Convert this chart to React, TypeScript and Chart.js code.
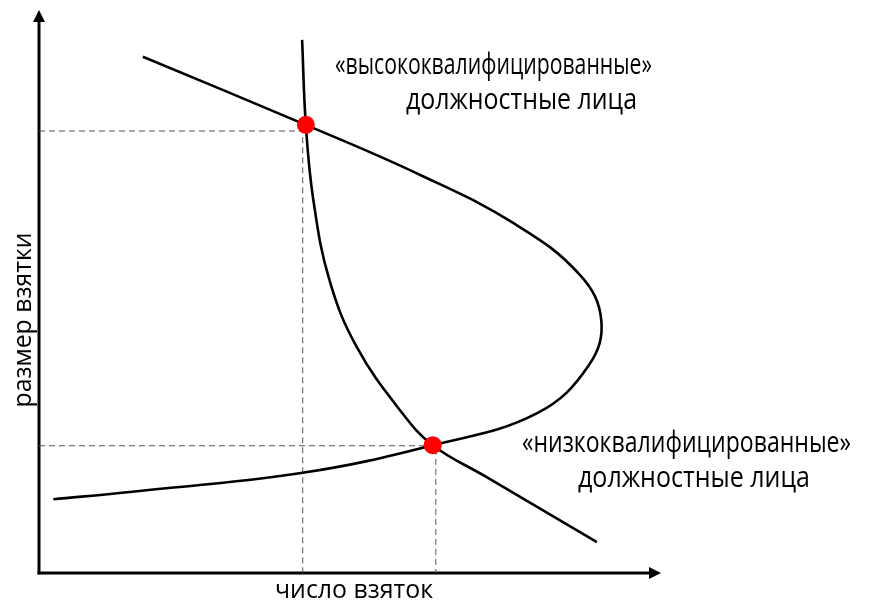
import React, { useEffect, useRef } from "react";
import { Chart, registerables } from "chart.js";

Chart.register(...registerables);

// Curve 1: steep, convex "hyperbola" (values in axis units, 0..100)
const curveSteepX = [42.3, 42.9, 44.1, 46.7, 51.1, 58.4, 63.3, 71.7, 89.7];
const curveSteepY = [94.7, 79.6, 66.3, 52.0, 40.1, 28.4, 22.7, 17.2, 5.5];

// Curve 2: C-shaped curve bulging to the right
const curveBulgeX = [16.7, 42.9, 61.3, 76.5, 87.0, 90.4, 88.4, 80.1, 63.3, 42.4, 14.6, 2.3];
const curveBulgeY = [91.7, 79.6, 70.7, 62.0, 52.9, 44.9, 36.9, 28.4, 22.7, 17.8, 14.4, 13.1];

// Equilibrium points (red)
const equilibriumX = [42.9, 63.3];
const equilibriumY = [79.6, 22.7];

// Guide (dashed) line coordinates
const guideX = [42.4, 63.8];
const guideY = [78.5, 22.6];

// Labels
const xAxisLabel = "число взяток";
const yAxisLabel = "размер взятки";
const highLabel = ["«высококвалифицированные»", "должностные лица"];
const lowLabel = ["«низкоквалифицированные»", "должностные лица"];

const zip = (xs: number[], ys: number[]) => xs.map((x, i) => ({ x, y: ys[i] }));

const FONT = '"Open Sans", "Noto Sans", sans-serif';

function drawText(
  ctx: CanvasRenderingContext2D,
  text: string,
  x: number,
  y: number,
  size: number,
  width: number,
  rotate = false
) {
  ctx.save();
  ctx.font = `${size}px ${FONT}`;
  ctx.fillStyle = "#000";
  ctx.textBaseline = "alphabetic";
  const w = ctx.measureText(text).width;
  const sx = width / w;
  ctx.translate(x, y);
  if (rotate) ctx.rotate(-Math.PI / 2);
  ctx.scale(sx, 1);
  ctx.textAlign = rotate ? "center" : "left";
  ctx.fillText(text, 0, 0);
  ctx.restore();
}

const decorPlugin = {
  id: "decor",
  beforeDatasetsDraw(chart: any) {
    const { ctx, chartArea } = chart;
    const { left, right, top, bottom } = chartArea;
    ctx.save();
    ctx.strokeStyle = "#000";
    ctx.fillStyle = "#000";
    ctx.lineWidth = 3;
    // y axis
    ctx.beginPath();
    ctx.moveTo(left, bottom + 1.5);
    ctx.lineTo(left, top + 10);
    ctx.stroke();
    ctx.beginPath();
    ctx.moveTo(left, top);
    ctx.lineTo(left - 6, top + 12);
    ctx.lineTo(left + 6, top + 12);
    ctx.closePath();
    ctx.fill();
    // x axis
    ctx.beginPath();
    ctx.moveTo(left - 1.5, bottom);
    ctx.lineTo(right - 10, bottom);
    ctx.stroke();
    ctx.beginPath();
    ctx.moveTo(right, bottom);
    ctx.lineTo(right - 12, bottom - 6);
    ctx.lineTo(right - 12, bottom + 6);
    ctx.closePath();
    ctx.fill();
    ctx.restore();
  },
  afterDraw(chart: any) {
    const { ctx } = chart;
    drawText(ctx, highLabel[0], 335, 74, 30, 317);
    drawText(ctx, highLabel[1], 406, 109, 30, 231);
    drawText(ctx, lowLabel[0], 522, 452, 30, 329);
    drawText(ctx, lowLabel[1], 578, 487, 30, 232);
    drawText(ctx, xAxisLabel, 275, 598, 26, 158);
    drawText(ctx, yAxisLabel, 31, 320, 26, 175, true);
  },
};

export default function App() {
  const ref = useRef<HTMLCanvasElement | null>(null);
  useEffect(() => {
    if (!ref.current) return;
    const guideStyle = {
      borderColor: "#555",
      borderWidth: 1,
      borderDash: [6, 4],
      pointRadius: 0,
      tension: 0,
      fill: false,
      order: 3,
    };
    const curveStyle = {
      borderColor: "#000",
      borderWidth: 2.6,
      pointRadius: 0,
      tension: 0.4,
      fill: false,
      order: 2,
    };
    const chart = new Chart(ref.current, {
      type: "line",
      data: {
        datasets: [
          {
            ...guideStyle,
            data: [
              { x: 0, y: guideY[0] },
              { x: guideX[0], y: guideY[0] },
              { x: guideX[0], y: 0 },
            ],
          },
          {
            ...guideStyle,
            data: [
              { x: 0, y: guideY[1] },
              { x: guideX[1], y: guideY[1] },
              { x: guideX[1], y: 0 },
            ],
          },
          { ...curveStyle, data: zip(curveSteepX, curveSteepY) },
          { ...curveStyle, data: zip(curveBulgeX, curveBulgeY) },
          {
            data: zip(equilibriumX, equilibriumY),
            showLine: false,
            pointRadius: 9,
            pointBackgroundColor: "#ff0000",
            pointBorderWidth: 0,
            borderColor: "#ff0000",
            order: 1,
          },
        ],
      } as any,
      options: {
        responsive: false,
        animation: false,
        devicePixelRatio: 1,
        layout: { padding: { left: 39, top: 10, right: 217, bottom: 28 } },
        plugins: { legend: { display: false }, tooltip: { enabled: false } },
        events: [],
        scales: {
          x: { type: "linear", min: 0, max: 100, display: false },
          y: { type: "linear", min: 0, max: 100, display: false },
        },
        datasets: { line: { clip: false } } as any,
      } as any,
      plugins: [decorPlugin],
    });
    return () => chart.destroy();
  }, []);
  return (
    <canvas
      ref={ref}
      width={878}
      height={601}
      style={{ position: "fixed", left: 0, top: 0, width: 878, height: 601, background: "#fff" }}
    />
  );
}
